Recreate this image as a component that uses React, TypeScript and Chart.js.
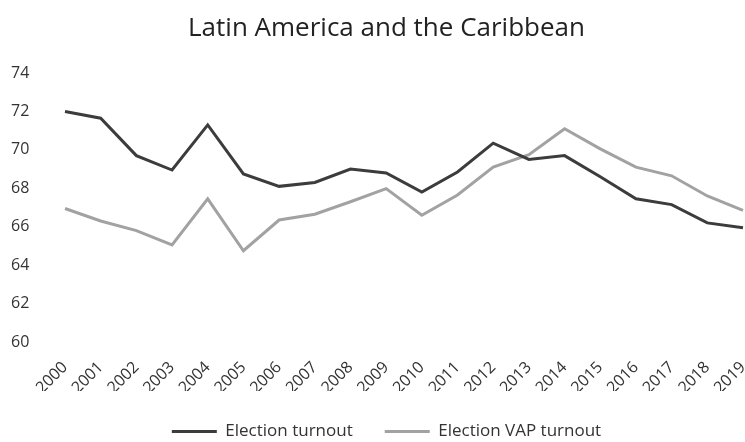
import React, { useEffect, useRef } from "react";
import { Chart, registerables } from "chart.js";

Chart.register(...registerables);

const years = ["2000","2001","2002","2003","2004","2005","2006","2007","2008","2009","2010","2011","2012","2013","2014","2015","2016","2017","2018","2019"];
const electionTurnout = [72.0, 71.65, 69.7, 68.95, 71.3, 68.75, 68.1, 68.3, 69.0, 68.8, 67.8, 68.85, 70.35, 69.5, 69.7, 68.6, 67.45, 67.15, 66.2, 65.95];
const vapTurnout = [66.95, 66.3, 65.8, 65.05, 67.45, 64.75, 66.35, 66.65, 67.3, 67.98, 66.6, 67.65, 69.1, 69.75, 71.1, 70.05, 69.1, 68.65, 67.6, 66.85];
const yMin = 60;
const yMax = 74;
const yStep = 2;

const FONT = "'Open Sans', 'Liberation Sans', sans-serif";
const CANVAS_W = 745;
const CANVAS_H = 442;

export default function App() {
  const ref = useRef<HTMLCanvasElement>(null);
  useEffect(() => {
    document.body.style.margin = "0";
    const ctx = ref.current!;
    const chart = new Chart(ctx, {
      type: "line",
      data: {
        labels: years,
        datasets: [
          {
            label: "Election turnout",
            data: electionTurnout,
            borderColor: "#3c3c3c",
            backgroundColor: "#3c3c3c",
            borderWidth: 3,
            pointRadius: 0,
            tension: 0,
          },
          {
            label: "Election VAP turnout",
            data: vapTurnout,
            borderColor: "#a2a2a2",
            backgroundColor: "#a2a2a2",
            borderWidth: 3,
            pointRadius: 0,
            tension: 0,
          },
        ],
      },
      options: {
        animation: false,
        responsive: false,
        maintainAspectRatio: false,
        layout: { padding: { left: 30, right: 2, top: 0, bottom: -8 } },
        plugins: {
          title: {
            display: true,
            text: "Latin America and the Caribbean",
            color: "#222",
            font: { family: FONT, size: 26, weight: "normal", lineHeight: 1.2 },
            padding: { top: 13, bottom: 28.8 },
          },
          legend: {
            position: "bottom",
            labels: {
              usePointStyle: true,
              pointStyle: "line",
              pointStyleWidth: 45,
              boxWidth: 45,
              color: "#333",
              font: { family: FONT, size: 17 },
              padding: 32,
            },
          },
          tooltip: { enabled: false },
        },
        scales: {
          x: {
            offset: false,
            grid: { display: false, drawTicks: false },
            border: { display: false },
            afterFit: (scale: any) => {
              scale.height = 49;
              scale.paddingLeft = 0;
              scale.paddingRight = 0;
            },
            ticks: {
              autoSkip: false,
              minRotation: 45,
              maxRotation: 45,
              color: "#333",
              font: { family: FONT, size: 16 },
              padding: 16,
            },
          },
          y: {
            min: yMin,
            max: yMax,
            grid: { display: false, drawTicks: false },
            border: { display: false },
            afterFit: (scale: any) => {
              scale.width = 35;
            },
            ticks: {
              stepSize: yStep,
              mirror: true,
              color: "#333",
              font: { family: FONT, size: 16 },
              padding: -54,
            },
          },
        },
      },
    });
    return () => chart.destroy();
  }, []);
  return <canvas ref={ref} width={CANVAS_W} height={CANVAS_H} style={{ display: "block" }} />;
}
